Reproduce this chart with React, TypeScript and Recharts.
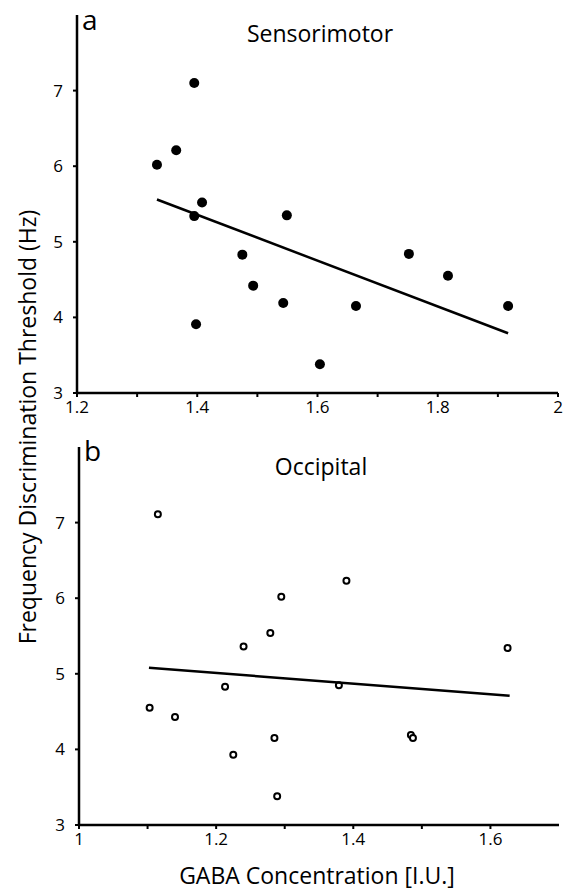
import React from 'react';
import { ScatterChart, Scatter, XAxis, YAxis } from 'recharts';

// Panel a: sensorimotor voxel
const sensoriGaba = [1.333, 1.365, 1.395, 1.408, 1.395, 1.475, 1.493, 1.398, 1.543, 1.549, 1.664, 1.604, 1.752, 1.817, 1.917];
const sensoriThreshold = [6.02, 6.21, 7.1, 5.52, 5.34, 4.83, 4.42, 3.91, 4.19, 5.35, 4.15, 3.38, 4.84, 4.55, 4.15];
const sensoriFitGaba = [1.333, 1.917];
const sensoriFitThreshold = [5.56, 3.79];
const sensoriTicks = [1.2, 1.3, 1.4, 1.5, 1.6, 1.7, 1.8, 1.9, 2];

// Panel b: occipital voxel
const occGaba = [1.115, 1.295, 1.279, 1.39, 1.24, 1.213, 1.103, 1.14, 1.225, 1.285, 1.289, 1.625, 1.379, 1.484, 1.487];
const occThreshold = [7.11, 6.02, 5.54, 6.23, 5.36, 4.83, 4.55, 4.43, 3.93, 4.15, 3.38, 5.34, 4.85, 4.19, 4.15];
const occFitGaba = [1.102, 1.628];
const occFitThreshold = [5.08, 4.71];
const occTicks = [1, 1.1, 1.2, 1.3, 1.4, 1.5, 1.6];

const thresholdTicks = [3, 4, 5, 6, 7];

const FONT = '"Open Sans", "Noto Sans", sans-serif';

const zip = (xs: number[], ys: number[]) => xs.map((x, i) => ({ x, y: ys[i] }));

// only every other tick gets a label
const evenLabel = (v: number) => {
  const k = Math.round(v * 10);
  if (k % 2 !== 0) return '';
  return k % 10 === 0 ? String(k / 10) : (k / 10).toFixed(1);
};

const FilledDot = (p: any) => <circle cx={p.cx} cy={p.cy} r={5} fill="#000" />;
const HollowDot = (p: any) => (
  <circle cx={p.cx} cy={p.cy} r={3} fill="#fff" stroke="#000" strokeWidth={2} />
);
const NoDot = () => <g />;

interface PanelProps {
  points: { x: number; y: number }[];
  fit: { x: number; y: number }[];
  xDomain: [number, number];
  xTicks: number[];
  margin: { top: number; right: number; bottom: number; left: number };
  dot: (p: any) => React.ReactElement;
}

function Panel({ points, fit, xDomain, xTicks, margin, dot }: PanelProps) {
  const tickStyle = { fontFamily: FONT, fontSize: 17, fill: '#000' };
  return (
    <ScatterChart width={565} height={423} margin={margin}>
      <XAxis
        type="number"
        dataKey="x"
        domain={xDomain}
        ticks={xTicks}
        tickFormatter={evenLabel}
        allowDataOverflow
        height={30}
        stroke="#000"
        strokeWidth={2.5}
        tickSize={4}
        tickMargin={4}
        tick={tickStyle}
        tickLine={{ stroke: '#000', strokeWidth: 2 }}
      />
      <YAxis
        type="number"
        dataKey="y"
        domain={[3, 8]}
        ticks={thresholdTicks}
        allowDataOverflow
        width={60}
        stroke="#000"
        strokeWidth={2.5}
        tickSize={4}
        tickMargin={10}
        tick={tickStyle}
        tickLine={{ stroke: '#000', strokeWidth: 2 }}
      />
      <Scatter data={points} shape={dot} isAnimationActive={false} />
      <Scatter
        data={fit}
        shape={NoDot}
        line={{ stroke: '#000', strokeWidth: 2.5 }}
        isAnimationActive={false}
      />
    </ScatterChart>
  );
}

export default function App() {
  return (
    <div style={{ position: 'absolute', left: 0, top: 0, width: 565, height: 892, background: '#fff' }}>
      <div style={{ position: 'absolute', left: 0, top: 0 }}>
        <Panel
          points={zip(sensoriGaba, sensoriThreshold)}
          fit={zip(sensoriFitGaba, sensoriFitThreshold)}
          xDomain={[1.2, 2]}
          xTicks={sensoriTicks}
          margin={{ top: 15, right: 7, bottom: 0, left: 17 }}
          dot={FilledDot}
        />
      </div>
      <div style={{ position: 'absolute', left: 0, top: 432 }}>
        <Panel
          points={zip(occGaba, occThreshold)}
          fit={zip(occFitGaba, occFitThreshold)}
          xDomain={[1, 1.7]}
          xTicks={occTicks}
          margin={{ top: 15, right: 6, bottom: 0, left: 19 }}
          dot={HollowDot}
        />
      </div>
      <svg
        width={565}
        height={892}
        style={{ position: 'absolute', left: 0, top: 0, pointerEvents: 'none' }}
        fontFamily={FONT}
      >
        <text x={82} y={30} fontSize={28}>a</text>
        <text x={320} y={42} fontSize={23} textAnchor="middle">Sensorimotor</text>
        <text x={84} y={461} fontSize={28}>b</text>
        <text x={321} y={475} fontSize={23} textAnchor="middle">Occipital</text>
        <text
          x={27}
          y={427}
          fontSize={23}
          textAnchor="middle"
          dominantBaseline="central"
          transform="rotate(-90 27 427)"
        >
          Frequency Discrimination Threshold (Hz)
        </text>
        <text x={317} y={884} fontSize={23} textAnchor="middle">GABA Concentration [I.U.]</text>
      </svg>
    </div>
  );
}
